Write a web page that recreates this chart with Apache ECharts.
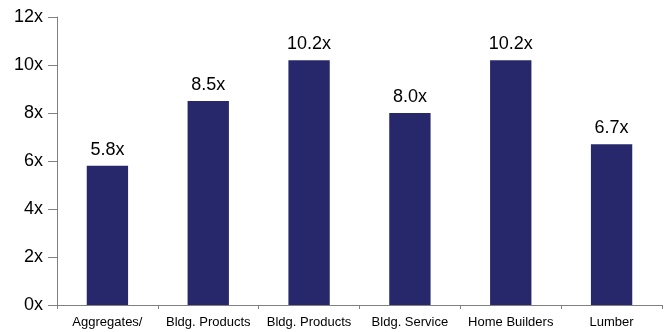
<!DOCTYPE html>
<html>
<head>
<meta charset="utf-8">
<script src="https://cdn.jsdelivr.net/npm/echarts@6/dist/echarts.min.js"></script>
<style>
  html, body { margin: 0; padding: 0; background: #fff; }
  #chart { width: 670px; height: 332px; }
</style>
</head>
<body>
<div id="chart"></div>
<script>
const categories = ['Aggregates/', 'Bldg. Products', 'Bldg. Products', 'Bldg. Service', 'Home Builders', 'Lumber']
const multiples = [5.8, 8.5, 10.2, 8.0, 10.2, 6.7]

const myChart = echarts.init(document.getElementById('chart'))
const option = {
  animation: false,
  grid: { left: 57, right: 8, top: 17, bottom: 27 },
  xAxis: {
    type: 'category',
    data: categories,
    axisLine: { lineStyle: { color: '#808080', width: 1 } },
    axisTick: { show: true, alignWithLabel: false, length: 4, lineStyle: { color: '#808080' } },
    axisLabel: {
      interval: 0,
      color: '#000',
      fontFamily: 'Liberation Sans',
      fontSize: 13,
      margin: 11
    }
  },
  yAxis: {
    type: 'value',
    min: 0,
    max: 12,
    interval: 2,
    splitLine: { show: false },
    axisLine: { show: true, lineStyle: { color: '#808080', width: 1 } },
    axisTick: { show: true, length: 9, lineStyle: { color: '#808080' } },
    axisLabel: {
      color: '#000',
      fontFamily: 'Liberation Sans',
      fontSize: 18,
      margin: 14,
      formatter: v => v + 'x'
    }
  },
  series: [
    {
      type: 'bar',
      data: multiples,
      barWidth: '41%',
      itemStyle: { color: '#27276b' },
      label: {
        show: true,
        position: 'top',
        distance: 7,
        color: '#000',
        fontFamily: 'Liberation Sans',
        fontSize: 18,
        formatter: p => p.value.toFixed(1) + 'x'
      }
    }
  ]
}
myChart.setOption(option)
</script>
</body>
</html>
